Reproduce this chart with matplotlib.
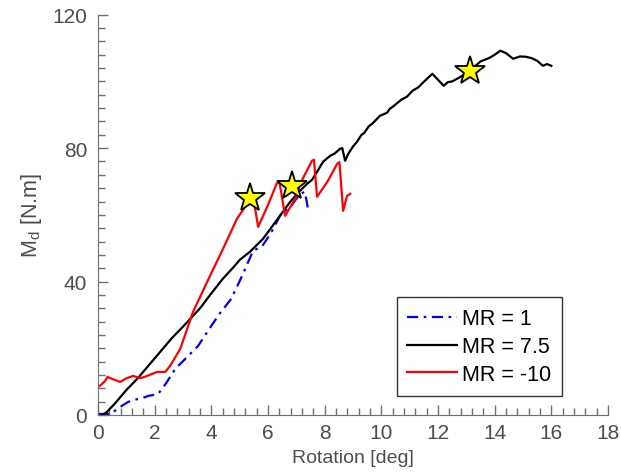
import matplotlib
matplotlib.use("Agg")
import matplotlib.pyplot as plt
from matplotlib.ticker import MultipleLocator

# MR = 1 (blue, dash-dot)
mr1_x = [0.0, 0.3, 0.46, 0.7, 1.06, 1.3, 1.55, 1.77, 2.12, 2.4, 2.72, 3.1, 3.53,
         3.9, 4.3, 4.7, 5.1, 5.47, 5.8, 6.1, 6.42, 6.8, 7.13, 7.3, 7.41]
mr1_y = [0.3, 0.3, 0.3, 2.0, 3.9, 4.6, 5.0, 5.7, 6.3, 9.5, 13.8, 17.0, 20.7,
         25.5, 30.5, 34.8, 42.0, 49.2, 50.7, 54.5, 59.7, 62.5, 66.3, 66.9, 61.8]

# MR = 7.5 (black)
mr75_x = [0.15, 0.3, 0.6, 1.0, 1.4, 1.77, 2.2, 2.6, 3.0, 3.25, 3.6, 4.0, 4.4,
          4.8, 5.0, 5.37, 5.82, 6.1, 6.4, 6.78, 7.1, 7.38, 7.55, 7.73, 7.94,
          8.19, 8.35, 8.54, 8.62, 8.72, 8.83, 9.0, 9.14, 9.3, 9.4, 9.55, 9.7,
          9.95, 10.2, 10.3, 10.4, 10.7, 10.9, 11.1, 11.3, 11.5, 11.8, 12.0,
          12.2, 12.35, 12.5, 12.8, 13.1, 13.5, 13.8, 14.0, 14.2, 14.4, 14.65,
          14.9, 15.1, 15.3, 15.5, 15.7, 15.85, 16.0]
mr75_y = [0.0, 0.8, 3.5, 7.5, 11.0, 14.7, 19.0, 23.0, 26.5, 28.8, 32.0, 36.5,
          40.8, 44.5, 46.5, 49.0, 52.8, 56.0, 59.5, 63.9, 67.0, 69.3, 70.5,
          72.9, 75.9, 77.7, 78.4, 79.8, 80.0, 76.2, 78.3, 80.5, 81.9, 84.0,
          84.6, 86.5, 87.5, 89.7, 90.6, 91.8, 92.4, 94.5, 95.4, 97.2, 98.2,
          99.9, 102.3, 100.5, 98.7, 99.8, 100.0, 101.4, 103.0, 106.0, 107.0,
          108.0, 109.2, 108.5, 106.8, 107.5, 107.4, 107.0, 106.2, 104.7, 105.2,
          104.7]

# MR = -10 (red)
mr10_x = [0.0, 0.1, 0.25, 0.33, 0.5, 0.78, 1.0, 1.24, 1.5, 1.73, 2.08, 2.37,
          2.54, 2.9, 3.35, 3.95, 4.41, 4.9, 5.2, 5.37, 5.5, 5.65, 6.0, 6.3,
          6.4, 6.53, 6.6, 7.02, 7.13, 7.55, 7.62, 7.73, 8.1, 8.44, 8.52, 8.65,
          8.79, 8.9]
mr10_y = [8.4, 9.0, 10.2, 11.4, 10.8, 9.9, 11.0, 11.7, 11.0, 11.7, 12.9, 12.9,
          14.7, 19.8, 30.9, 41.7, 49.8, 58.8, 62.5, 65.0, 64.0, 56.4, 63.0,
          69.3, 70.0, 63.3, 59.7, 65.7, 69.3, 76.2, 76.5, 65.4, 70.0, 75.3,
          75.8, 61.2, 65.7, 66.3]

# failure points (stars)
star_x = [5.37, 6.85, 13.13]
star_y = [65.1, 68.7, 103.2]

plt.rcParams["font.family"] = ["Liberation Sans", "DejaVu Sans"]
gray = "#4d4d4d"

fig = plt.figure(figsize=(6.21, 4.77), dpi=100)
ax = fig.add_axes([0.158, 0.128, 0.821, 0.839])

ax.plot(mr1_x, mr1_y, color="#0000ff", lw=1.6, dashes=(5, 2.5, 1.2, 2.5), label="MR = 1")
ax.plot(mr75_x, mr75_y, color="black", lw=1.6, label="MR = 7.5")
ax.plot(mr10_x, mr10_y, color="#ff0000", lw=1.6, label="MR = -10")
ax.plot(star_x, star_y, ls="none", marker="*", ms=22, mfc="#ffff00",
        mec="black", mew=1.3, zorder=5)

ax.set_xlim(0, 18)
ax.set_ylim(0, 120)
ax.xaxis.set_major_locator(MultipleLocator(2))
ax.xaxis.set_minor_locator(MultipleLocator(0.4))
ax.yaxis.set_major_locator(MultipleLocator(40))
ax.yaxis.set_minor_locator(MultipleLocator(4))
ax.tick_params(which="both", direction="in", color="#707070", labelcolor=gray,
               labelsize=15)
ax.tick_params(which="major", length=7, width=1)
ax.tick_params(which="minor", length=5, width=1)
ax.tick_params(axis="x", pad=6)
ax.tick_params(axis="y", pad=8)
for s in ["top", "right"]:
    ax.spines[s].set_visible(False)
for s in ["left", "bottom"]:
    ax.spines[s].set_color("#707070")

ax.set_xlabel("Rotation [deg]", fontsize=14, color=gray, labelpad=5)
ax.set_ylabel("M$_\\mathregular{d}$ [N.m]", fontsize=15.5, color=gray, labelpad=6)

leg = ax.legend(loc="lower right", bbox_to_anchor=(0.91, 0.048), fontsize=15.5,
                fancybox=False, framealpha=1, edgecolor="#333333",
                handlelength=2.3, handletextpad=0.25, borderpad=0.5,
                labelspacing=0.32, borderaxespad=0)
leg.get_frame().set_linewidth(1.0)

fig.savefig("out.png", dpi=100)
